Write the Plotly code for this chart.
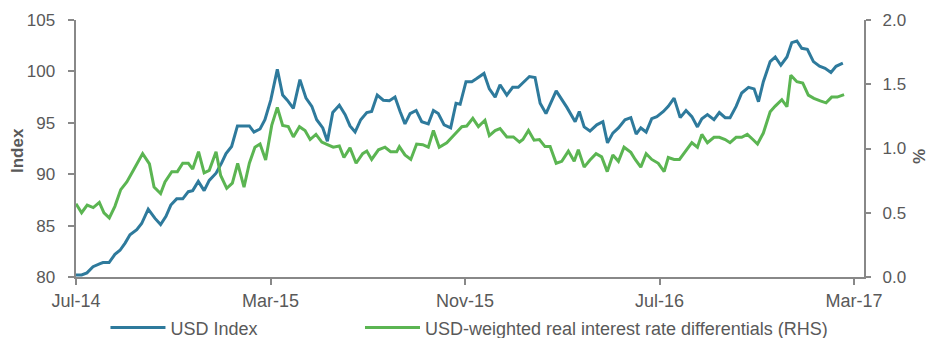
import plotly.graph_objects as go

# time in months after Jul-2014
usd_t = [0.00,0.23,0.45,0.70,0.99,1.11,1.36,1.60,1.81,2.02,2.22,2.50,2.70,2.97,3.25,3.48,3.70,3.90,4.14,4.39,
         4.62,4.80,5.03,5.27,5.48,5.76,5.99,6.17,6.40,6.64,6.88,7.13,7.32,7.57,7.77,8.01,8.28,8.50,8.69,8.94,
         9.21,9.46,9.70,9.90,10.15,10.34,10.56,10.83,11.07,11.27,11.48,11.71,11.96,12.16,12.39,12.64,12.89,13.12,13.33,13.53,
         13.74,13.99,14.22,14.49,14.70,14.90,15.14,15.41,15.63,15.80,16.04,16.28,16.48,16.78,17.00,17.24,17.44,17.72,17.96,18.19,
         18.65,18.88,19.09,19.33,19.75,20.19,20.53,20.70,20.90,21.14,21.42,21.67,21.86,22.08,22.31,22.58,22.82,23.04,23.23,23.45,
         23.68,23.89,24.16,24.36,24.60,24.85,25.09,25.33,25.56,25.74,25.97,26.24,26.46,26.70,26.90,27.15,27.38,27.66,27.89,28.07,
         28.27,28.55,28.76,28.99,29.24,29.44,29.65,29.85,30.08,30.33,30.58,30.81,31.05,31.26,31.54]
usd_index = [80.2,80.2,80.4,81.0,81.3,81.4,81.4,82.2,82.6,83.3,84.1,84.6,85.2,86.6,85.7,85.1,85.9,87.0,87.6,87.6,
             88.3,88.4,89.3,88.4,89.4,90.1,91.1,92.0,92.7,94.7,94.7,94.7,94.1,94.4,95.3,97.2,100.2,97.7,97.2,96.4,
             99.2,97.4,96.6,95.3,94.5,93.2,96.0,96.7,95.8,94.7,94.1,95.3,96.0,96.1,97.7,97.2,97.15,97.5,96.1,94.9,
             95.9,96.2,95.1,94.9,96.2,95.9,94.8,94.5,96.9,96.8,99.0,99.0,99.3,99.8,98.3,97.5,98.7,97.7,98.45,98.45,
             99.5,99.4,96.9,95.9,98.1,96.5,95.1,96.1,94.6,94.2,94.8,95.1,93.05,94.0,94.5,95.3,95.5,93.9,94.5,94.1,
             95.4,95.6,96.1,96.6,97.4,95.5,96.2,95.6,94.6,95.4,95.8,95.3,96.0,95.5,95.5,96.6,97.9,98.45,98.3,97.05,
             99.0,100.95,101.4,100.6,101.4,102.8,102.96,102.25,102.15,100.95,100.5,100.3,99.9,100.5,100.8]

rhs_t = [0.00,0.23,0.46,0.71,0.96,1.15,1.37,1.60,1.84,2.09,2.36,2.74,3.02,3.21,3.48,3.66,3.94,4.17,4.39,4.62,
         4.80,5.04,5.27,5.48,5.76,5.95,6.20,6.43,6.65,6.91,7.13,7.36,7.57,7.80,8.05,8.28,8.50,8.73,8.94,9.19,
         9.42,9.63,9.87,10.11,10.34,10.58,10.83,11.02,11.27,11.52,11.79,11.96,12.16,12.44,12.71,12.94,13.19,13.30,13.53,13.77,
         14.01,14.26,14.49,14.70,14.94,15.25,15.55,15.87,16.07,16.32,16.55,16.82,17.00,17.24,17.44,17.72,17.99,18.24,18.38,18.61,
         18.84,19.06,19.29,19.50,19.75,19.98,20.25,20.49,20.66,20.90,21.14,21.39,21.62,21.85,22.08,22.31,22.54,22.82,23.00,23.23,
         23.45,23.68,23.95,24.19,24.36,24.60,24.82,25.05,25.33,25.56,25.74,25.97,26.24,26.46,26.70,26.90,27.15,27.38,27.61,27.84,
         28.03,28.27,28.55,28.76,29.03,29.24,29.40,29.65,29.89,30.12,30.35,30.61,30.85,31.08,31.31,31.59]
rate_diff = [0.57,0.50,0.56,0.54,0.58,0.50,0.46,0.55,0.68,0.74,0.83,0.96,0.88,0.70,0.65,0.74,0.82,0.82,0.885,0.885,
             0.84,0.975,0.81,0.83,0.975,0.79,0.69,0.73,0.885,0.70,0.885,1.01,1.035,0.91,1.18,1.32,1.18,1.17,1.09,1.17,
             1.14,1.07,1.11,1.05,1.03,1.01,1.02,0.93,1.005,0.885,0.96,0.98,0.915,0.99,1.01,0.975,0.975,1.015,0.95,0.915,
             1.035,1.03,1.01,1.14,1.01,1.045,1.105,1.17,1.175,1.235,1.17,1.22,1.10,1.14,1.155,1.09,1.09,1.05,1.07,1.14,
             1.065,1.07,1.015,1.015,0.885,0.90,0.98,0.90,0.99,0.855,0.91,0.96,0.935,0.82,0.95,0.90,1.01,0.97,0.915,0.855,
             0.96,0.915,0.885,0.82,0.93,0.915,0.915,0.97,1.045,1.01,1.11,1.045,1.087,1.087,1.07,1.045,1.087,1.087,1.11,1.07,
             1.035,1.12,1.285,1.33,1.38,1.325,1.57,1.52,1.51,1.415,1.39,1.37,1.355,1.40,1.40,1.42]

tick_months = [0, 8, 16, 24, 32]
tick_labels = ["Jul-14", "Mar-15", "Nov-15", "Jul-16", "Mar-17"]

BLUE = "#2E7A9C"
GREEN = "#5BB552"
GREY = "#595959"
AXIS = "#888888"
FONT = "Liberation Sans, Arial, sans-serif"
NBSP = "\u00a0"
THIN = "\u2009"

fig = go.Figure()
fig.add_trace(go.Scatter(x=usd_t, y=usd_index, mode="lines", name="USD Index",
                         line=dict(color=BLUE, width=3), legend="legend"))
fig.add_trace(go.Scatter(x=rhs_t, y=rate_diff, mode="lines", yaxis="y2",
                         name="USD-weighted real interest rate differentials (RHS)",
                         line=dict(color=GREEN, width=3), legend="legend2"))

legend_common = dict(orientation="h", yanchor="middle", y=-0.198,
                     font=dict(size=18, color=GREY), itemwidth=55,
                     bgcolor="rgba(0,0,0,0)")

fig.update_layout(
    width=928, height=338,
    margin=dict(l=76, r=64, t=20, b=61, autoexpand=False),
    paper_bgcolor="white", plot_bgcolor="white",
    font=dict(family=FONT, color=GREY, size=17),
    xaxis=dict(range=[0, 32.41], tickvals=tick_months, ticktext=tick_labels,
               showgrid=False, zeroline=False, showline=True, linecolor=AXIS, linewidth=2,
               ticks="outside", ticklen=6, tickcolor=AXIS, tickwidth=1.5,
               tickfont=dict(size=18, color=GREY)),
    yaxis=dict(range=[80, 105], dtick=5, showgrid=False, zeroline=False, showline=True,
               linecolor=AXIS, linewidth=2, ticks="outside", ticklen=6, tickcolor=AXIS, tickwidth=1.5,
               ticksuffix=NBSP * 2, tickfont=dict(size=17, color=GREY)),
    yaxis2=dict(range=[0, 2.0], dtick=0.5, tickformat=".1f", overlaying="y", side="right",
                showgrid=False, zeroline=False, showline=True, linecolor=AXIS, linewidth=2,
                ticks="outside", ticklen=5, tickcolor=AXIS, tickwidth=1.5,
                tickprefix=NBSP + THIN, tickfont=dict(size=17, color=GREY)),
    legend=dict(x=0.0374, xanchor="left", **legend_common),
    legend2=dict(x=0.3604, xanchor="left", **legend_common),
    showlegend=True,
    annotations=[
        dict(text="<b>Index</b>", xref="paper", yref="paper", x=-0.0749, y=0.494,
             xanchor="center", yanchor="middle", textangle=-90, showarrow=False,
             font=dict(size=17, color=GREY)),
        dict(text="<b>%</b>", xref="paper", yref="paper", x=1.0685, y=0.468,
             xanchor="center", yanchor="middle", textangle=90, showarrow=False,
             font=dict(size=17, color=GREY)),
    ],
)

fig.write_html("out.html")
